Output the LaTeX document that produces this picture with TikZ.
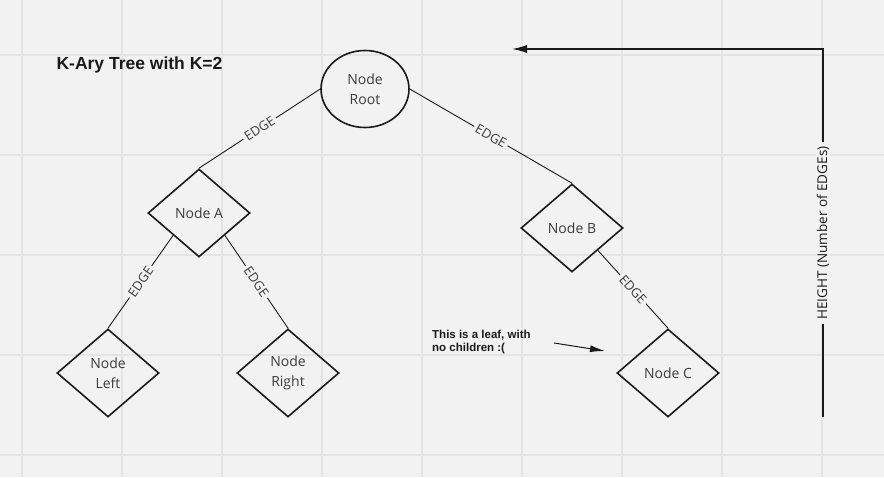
\documentclass[tikz,border=0pt]{standalone}
\usepackage{fontspec}
\setmainfont{Open Sans}
\newfontfamily\titlefont{Liberation Sans}
\usetikzlibrary{shapes.geometric,arrows.meta}
\definecolor{bg}{HTML}{F2F2F2}
\definecolor{gridc}{HTML}{E4E4E4}
\definecolor{ink}{HTML}{1A1A1A}
\definecolor{txt}{HTML}{3C3C3C}
\tikzset{
  treenode/.style={draw=ink, line width=1.6pt, text=txt, font=\fontsize{14}{20}\selectfont, align=center, inner sep=0pt},
  diam/.style={treenode, shape=diamond, minimum width=102pt, minimum height=88pt},
  rootnode/.style={treenode, shape=ellipse, minimum width=88pt, minimum height=77pt},
  treeedge/.style={draw=ink, line width=0.9pt},
  edgelabel/.style={midway, sloped, fill=bg, text=txt, font=\fontsize{13}{15}\selectfont, inner xsep=2.5pt, inner ysep=0pt},
  gridline/.style={draw=gridc, line width=1.2pt},
  bigarrow/.style={draw=ink, line width=1.3pt, -{Latex[length=15pt,width=8pt]}},
  notearrow/.style={draw=ink, line width=1pt, -{Latex[length=15pt,width=7pt]}}
}
\begin{document}
\begin{tikzpicture}[x=1pt,y=-1pt]
\fill[bg] (0,0) rectangle (884,477);
\useasboundingbox (0,0) rectangle (884,477);
\foreach \gx in {22,122,...,822} {\draw[gridline] (\gx,0) -- (\gx,477);}
\foreach \gy in {55,155,...,455} {\draw[gridline] (0,\gy) -- (884,\gy);}

\node[font=\titlefont\bfseries\fontsize{17.5}{20}\selectfont, text=ink, inner sep=0pt] (title) at (139.5,65) {K-Ary Tree with K=2};

\node[rootnode] (root) at (365,89) {Node\\Root};
\node[diam] (A) at (199,213) {Node A};
\node[diam] (B) at (572,228) {Node B};
\node[diam] (L) at (108,373) {Node\\Left};
\node[diam] (R) at (288,373) {Node\\Right};
\node[diam] (C) at (668,373) {Node C};

\draw[treeedge] (root.west) -- node[edgelabel]{EDGE} (A.north);
\draw[treeedge] (root.east) -- node[edgelabel]{EDGE} (B.north);
\draw[treeedge] (A.south west) -- node[edgelabel]{EDGE} (L.north);
\draw[treeedge] (A.south east) -- node[edgelabel]{EDGE} (R.north);
\draw[treeedge] (B.south east) -- node[edgelabel]{EDGE} (C.north);

\node[font=\titlefont\bfseries\fontsize{11.5}{13}\selectfont, text=ink, align=left, anchor=west, inner sep=0pt] (note) at (432,342.5) {This is a leaf, with\\no children :(};
\coordinate (na) at (554,343);
\coordinate (nb) at (605,351);
\draw[notearrow] (na) -- (nb);

\coordinate (hb) at (823,417);
\coordinate (hc) at (823,49);
\coordinate (ht) at (512,49);
\draw[bigarrow] (hb) -- node[midway, rotate=90, fill=bg, text=ink, font=\fontsize{13.5}{15}\selectfont, inner xsep=4pt, inner ysep=1pt] (hlabel) {HEIGHT (Number of EDGEs)} (hc) -- (ht);
\end{tikzpicture}
\end{document}
